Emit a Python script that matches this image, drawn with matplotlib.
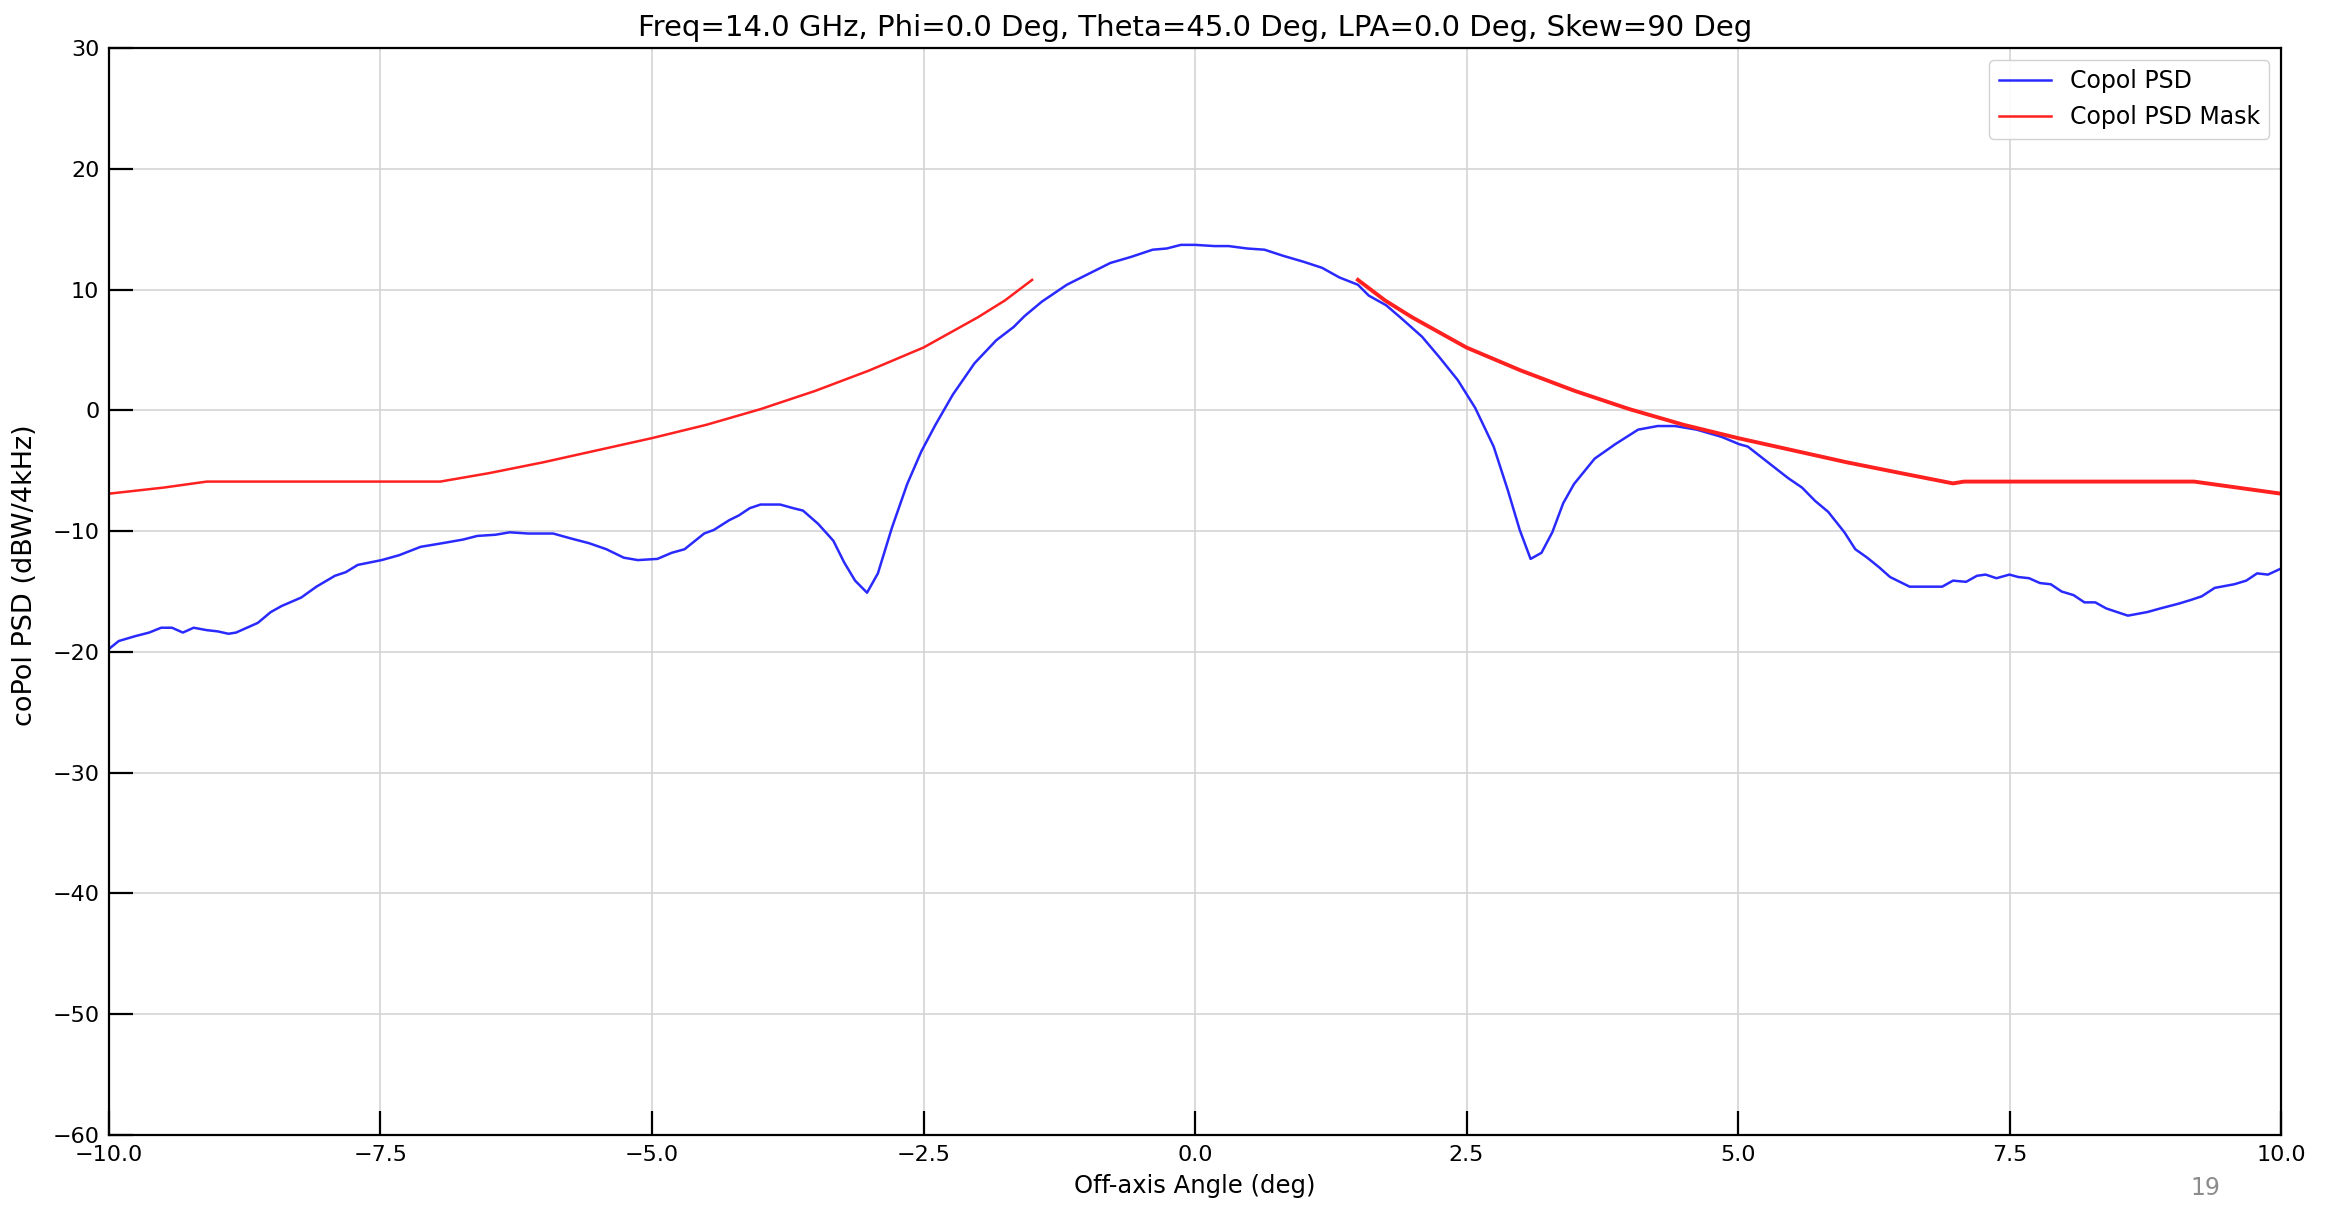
import matplotlib
matplotlib.use('Agg')
import matplotlib.pyplot as plt

# Copol PSD curve (off-axis angle in deg, PSD in dBW/4kHz)
psd_angle = [-10.0, -9.91, -9.76, -9.63, -9.52, -9.42, -9.32, -9.22, -9.10, -9.00,
             -8.90, -8.83, -8.63, -8.51, -8.41, -8.23, -8.09, -7.92, -7.82, -7.71,
             -7.49, -7.33, -7.13, -6.93, -6.74, -6.61, -6.44, -6.31, -6.14, -5.91,
             -5.75, -5.58, -5.42, -5.26, -5.13, -4.95, -4.82, -4.70, -4.52, -4.43,
             -4.29, -4.20, -4.10, -4.00, -3.82, -3.70, -3.61, -3.47, -3.33, -3.23,
             -3.13, -3.02, -2.92, -2.79, -2.65, -2.52, -2.39, -2.23, -2.03, -1.83,
             -1.67, -1.57, -1.41, -1.18, -0.98, -0.78, -0.59, -0.39, -0.26, -0.13,
             0.0, 0.18, 0.31, 0.48, 0.64, 0.81, 1.00, 1.17, 1.33, 1.50,
             1.60, 1.76, 1.89, 2.09, 2.25, 2.42, 2.58, 2.75, 2.88, 2.99,
             3.09, 3.19, 3.29, 3.39, 3.49, 3.68, 3.87, 4.08, 4.26, 4.42,
             4.62, 4.85, 5.01, 5.09, 5.19, 5.32, 5.46, 5.59, 5.71, 5.83,
             5.98, 6.08, 6.19, 6.30, 6.40, 6.58, 6.73, 6.88, 6.98, 7.10,
             7.20, 7.28, 7.38, 7.50, 7.58, 7.68, 7.78, 7.88, 7.98, 8.09,
             8.19, 8.29, 8.39, 8.49, 8.59, 8.77, 8.89, 9.06, 9.17, 9.27,
             9.39, 9.57, 9.68, 9.78, 9.88, 10.0]
psd_value = [-19.75, -19.1, -18.7, -18.4, -18.0, -18.0, -18.4, -18.0, -18.2, -18.3,
             -18.5, -18.4, -17.6, -16.7, -16.2, -15.5, -14.6, -13.7, -13.4, -12.8,
             -12.4, -12.0, -11.3, -11.0, -10.7, -10.4, -10.3, -10.1, -10.2, -10.2,
             -10.6, -11.0, -11.5, -12.2, -12.4, -12.3, -11.8, -11.5, -10.2, -9.9,
             -9.1, -8.7, -8.1, -7.8, -7.8, -8.1, -8.3, -9.4, -10.8, -12.6,
             -14.1, -15.1, -13.5, -9.7, -6.1, -3.4, -1.2, 1.3, 3.9, 5.8,
             6.9, 7.8, 9.0, 10.4, 11.3, 12.2, 12.7, 13.3, 13.4, 13.7,
             13.7, 13.6, 13.6, 13.4, 13.3, 12.8, 12.3, 11.8, 11.0, 10.4,
             9.5, 8.7, 7.7, 6.1, 4.4, 2.5, 0.2, -3.0, -6.6, -9.9,
             -12.3, -11.8, -10.1, -7.7, -6.1, -4.0, -2.8, -1.6, -1.3, -1.3,
             -1.6, -2.2, -2.8, -3.0, -3.7, -4.6, -5.6, -6.4, -7.5, -8.4,
             -10.1, -11.5, -12.2, -13.0, -13.8, -14.6, -14.6, -14.6, -14.1, -14.2,
             -13.7, -13.6, -13.9, -13.6, -13.8, -13.9, -14.3, -14.4, -15.0, -15.3,
             -15.9, -15.9, -16.4, -16.7, -17.0, -16.7, -16.4, -16.0, -15.7, -15.4,
             -14.7, -14.4, -14.1, -13.5, -13.6, -13.1]

# Copol PSD mask, left and right parts
mask_left_angle = [-10.0, -9.5, -9.1, -8.0, -6.95, -6.5, -6.0, -5.5, -5.0, -4.5,
                   -4.0, -3.5, -3.0, -2.5, -2.0, -1.75, -1.5]
mask_left_value = [-6.9, -6.4, -5.9, -5.9, -5.9, -5.2, -4.3, -3.3, -2.3, -1.2,
                   0.1, 1.6, 3.3, 5.2, 7.7, 9.1, 10.8]
mask_right_angle = [1.5, 1.75, 2.0, 2.5, 3.0, 3.5, 4.0, 4.5, 5.0, 5.5,
                    6.0, 6.5, 6.98, 7.08, 8.0, 9.2, 9.6, 10.0]
mask_right_value = [10.8, 9.1, 7.7, 5.2, 3.3, 1.6, 0.1, -1.2, -2.3, -3.3,
                    -4.3, -5.2, -6.05, -5.9, -5.9, -5.9, -6.4, -6.9]

x_ticks = [-10.0, -7.5, -5.0, -2.5, 0.0, 2.5, 5.0, 7.5, 10.0]
y_ticks = [-60, -50, -40, -30, -20, -10, 0, 10, 20, 30]

plt.rcParams['font.family'] = ['DejaVu Sans']

fig = plt.figure(figsize=(23.36, 12.05), dpi=100)
ax = fig.add_axes([109 / 2336, 1 - 1135 / 1205, 2172 / 2336, 1087 / 1205])

ax.plot(psd_angle, psd_value, color='#2a2aff', lw=1.8, label='Copol PSD')
ax.plot(mask_left_angle, mask_left_value, color='#ff2020', lw=1.8, label='Copol PSD Mask')
ax.plot(mask_right_angle, mask_right_value, color='#ff2020', lw=2.8)

ax.set_xlim(-10, 10)
ax.set_ylim(-60, 30)
ax.set_xticks(x_ticks)
ax.set_yticks(y_ticks)
ax.grid(True, color='#d4d4d4', lw=1.2)
ax.set_axisbelow(True)

ax.tick_params(direction='in', length=17, width=1.6, labelsize=16, pad=7,
               top=False, right=False)
for s in ax.spines.values():
    s.set_linewidth(1.6)

ax.set_title('Freq=14.0 GHz, Phi=0.0 Deg, Theta=45.0 Deg, LPA=0.0 Deg, Skew=90 Deg',
             fontsize=21, pad=9)
ax.set_xlabel('Off-axis Angle (deg)', fontsize=17.5, labelpad=7)
ax.set_ylabel('coPol PSD (dBW/4kHz)', fontsize=19.5)
ax.yaxis.set_label_coords(-0.0325, 0.515)

ax.legend(loc='upper right', fontsize=17, framealpha=0.9, handlelength=2.2)

# page number in the corner
fig.text(2205 / 2336, 1 - 1188 / 1205, '19', color='#8c8c8c', fontsize=17,
         ha='center', va='center')

fig.savefig('out.png', dpi=100)
